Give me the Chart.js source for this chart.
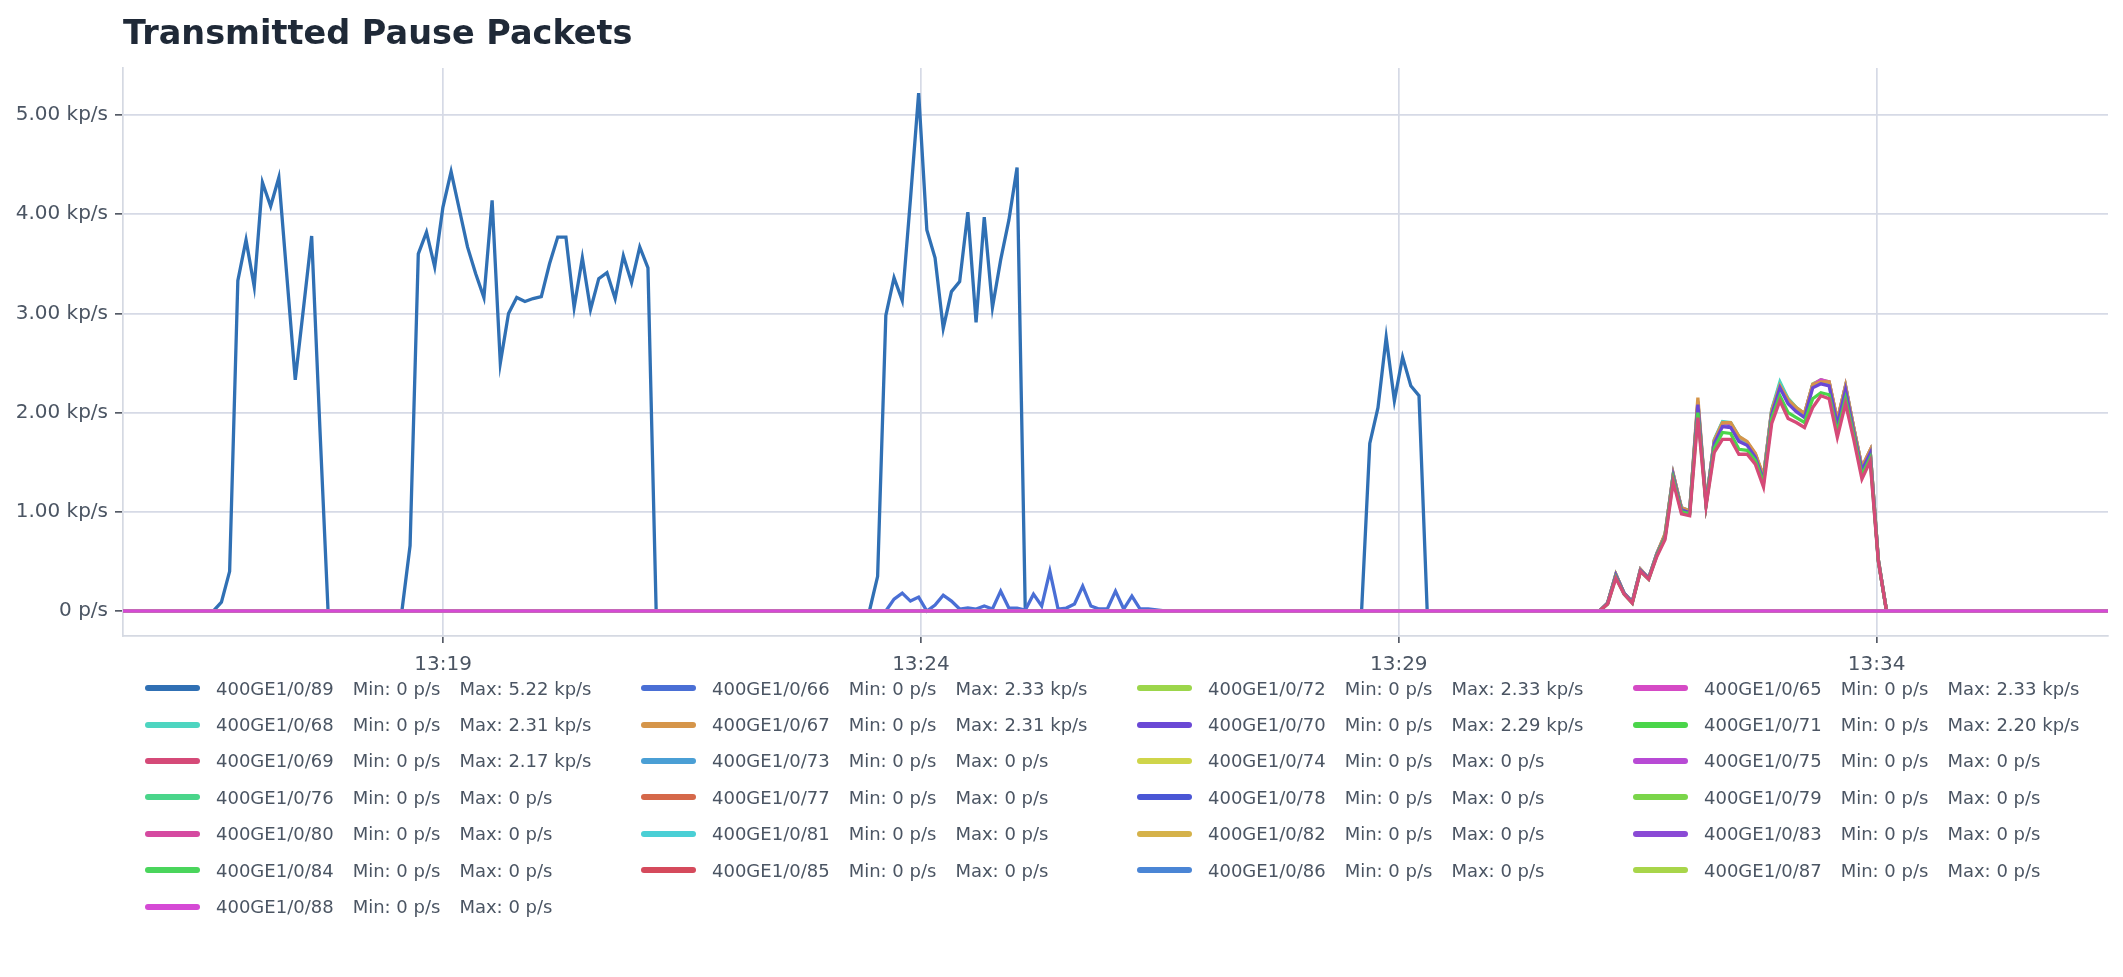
<!DOCTYPE html>
<html lang="en">
<head>
<meta charset="UTF-8" />
<title>Transmitted Pause Packets</title>
<script src="https://cdn.jsdelivr.net/npm/chart.js@4.4.1/dist/chart.umd.min.js"></script>
<style>
  html, body { margin: 0; padding: 0; background: #ffffff; }
  body { width: 2123px; height: 977px; overflow: hidden; font-family: "DejaVu Sans", sans-serif; }
  #wrap { position: relative; width: 2123px; height: 680px; }
  #legend {
    position: absolute; left: 145px; top: 670px;
    display: grid; grid-template-columns: repeat(4, 496px); grid-auto-rows: 36.4px;
    color: #4b5563; font-size: 18px;
  }
  .item { display: flex; align-items: center; white-space: nowrap; }
  .sw { width: 55px; height: 6px; border-radius: 3px; margin-right: 16px; }
  .gap { margin-left: 19px; }
</style>
</head>
<body>
<div id="wrap"><canvas id="chart"></canvas></div>
<div id="legend"></div>

<script>
// time axis, seconds since midnight
const START = 47739;          // 13:15:39
const STEP = 5.15;            // sample spacing (s)
const LAST = 242;             // last sample index
const tickTimes = [47940, 48240, 48540, 48840];
const tickLabels = ["13:19", "13:24", "13:29", "13:34"];
const yTicks = [0, 1, 2, 3, 4, 5];

// legend order (sorted by max)
const ports = [
  "400GE1/0/89", "400GE1/0/66", "400GE1/0/72", "400GE1/0/65",
  "400GE1/0/68", "400GE1/0/67", "400GE1/0/70", "400GE1/0/71",
  "400GE1/0/69", "400GE1/0/73", "400GE1/0/74", "400GE1/0/75",
  "400GE1/0/76", "400GE1/0/77", "400GE1/0/78", "400GE1/0/79",
  "400GE1/0/80", "400GE1/0/81", "400GE1/0/82", "400GE1/0/83",
  "400GE1/0/84", "400GE1/0/85", "400GE1/0/86", "400GE1/0/87",
  "400GE1/0/88"
];
const colors = [
  "#3070b4", "#4a6fd5", "#9cd64b", "#d54ac5",
  "#4dd5c0", "#d5954a", "#6a48d5", "#4ad54a",
  "#d54a78", "#4a9fd5", "#cfd54a", "#b84ad5",
  "#4ad58a", "#d5684a", "#4a56d5", "#7ad54a",
  "#d54aa0", "#4acfd5", "#d5b24a", "#8a4ad5",
  "#4ad55c", "#d54a5c", "#4a85d5", "#a8d54a",
  "#d54ad5"
];

// values in kp/s, each burst = [first sample index, values]
const p89 = [
  [11, [0, 0.09, 0.40, 3.33, 3.74, 3.27, 4.32, 4.08, 4.37, 3.35, 2.33, 3.05, 3.78, 1.85, 0]],
  [34, [0, 0.66, 3.60, 3.82, 3.47, 4.07, 4.43, 4.05, 3.67, 3.40, 3.16, 4.14, 2.50, 3.00, 3.16, 3.12,
        3.15, 3.17, 3.50, 3.77, 3.77, 3.06, 3.56, 3.04, 3.35, 3.41, 3.15, 3.58, 3.31, 3.67, 3.46, 0]],
  [91, [0, 0.35, 2.98, 3.36, 3.13, 4.15, 5.22, 3.84, 3.56, 2.85, 3.22, 3.32, 4.02, 2.91, 3.97, 3.06,
        3.54, 3.94, 4.47, 0]],
  [151, [0, 1.69, 2.05, 2.76, 2.12, 2.56, 2.27, 2.17, 0]]
];
const p66 = [
  [93, [0, 0.12, 0.18, 0.10, 0.14, 0.00, 0.06, 0.16, 0.10, 0.02, 0.03, 0.02, 0.05, 0.02, 0.20, 0.03,
        0.03, 0.01, 0.17, 0.05, 0.40, 0.02, 0.03, 0.07, 0.25, 0.05, 0.02, 0.02, 0.20, 0.02, 0.15, 0.02,
        0.02, 0.01, 0]],
  [180, [0, 0.08, 0.36, 0.18, 0.09, 0.42, 0.33, 0.58, 0.76, 1.38, 1.03, 1.01, 2.11, 1.09, 1.71, 1.89,
         1.88, 1.74, 1.70, 1.57, 1.34, 2.01, 2.27, 2.13, 2.04, 1.98, 2.28, 2.33, 2.30, 1.91, 2.26, 1.84,
         1.44, 1.61, 0.51, 0]]
];
const p72 = [
  [180, [0, 0.08, 0.37, 0.18, 0.09, 0.41, 0.33, 0.57, 0.77, 1.37, 1.04, 1.00, 2.06, 1.08, 1.72, 1.90,
         1.89, 1.75, 1.69, 1.58, 1.35, 2.02, 2.29, 2.14, 2.05, 1.99, 2.29, 2.33, 2.31, 1.92, 2.27, 1.85,
         1.45, 1.62, 0.52, 0]]
];
const p65 = [
  [180, [0, 0.08, 0.37, 0.18, 0.09, 0.42, 0.33, 0.58, 0.77, 1.37, 1.04, 1.01, 2.10, 1.09, 1.72, 1.90,
         1.89, 1.75, 1.70, 1.58, 1.35, 2.02, 2.28, 2.13, 2.04, 1.99, 2.28, 2.33, 2.31, 1.92, 2.27, 1.85,
         1.45, 1.62, 0.52, 0]]
];
const p68 = [
  [180, [0, 0.08, 0.37, 0.18, 0.09, 0.42, 0.33, 0.58, 0.77, 1.37, 1.04, 1.01, 2.09, 1.09, 1.73, 1.91,
         1.90, 1.76, 1.70, 1.58, 1.35, 2.03, 2.31, 2.14, 2.05, 1.98, 2.27, 2.30, 2.29, 1.91, 2.26, 1.84,
         1.44, 1.61, 0.52, 0]]
];
const p67 = [
  [180, [0, 0.08, 0.37, 0.18, 0.09, 0.42, 0.33, 0.58, 0.78, 1.38, 1.04, 1.01, 2.15, 1.09, 1.72, 1.90,
         1.90, 1.76, 1.71, 1.59, 1.36, 2.02, 2.27, 2.13, 2.05, 1.99, 2.28, 2.31, 2.31, 1.93, 2.27, 1.85,
         1.45, 1.62, 0.52, 0]]
];
const p70 = [
  [180, [0, 0.08, 0.36, 0.18, 0.09, 0.41, 0.33, 0.57, 0.75, 1.36, 1.02, 0.99, 2.08, 1.08, 1.69, 1.86,
         1.85, 1.71, 1.67, 1.55, 1.32, 1.98, 2.25, 2.09, 2.01, 1.95, 2.25, 2.29, 2.27, 1.88, 2.23, 1.81,
         1.42, 1.59, 0.51, 0]]
];
const p71 = [
  [180, [0, 0.07, 0.34, 0.17, 0.08, 0.40, 0.32, 0.56, 0.74, 1.33, 1.00, 0.98, 2.00, 1.07, 1.64, 1.80,
         1.79, 1.63, 1.62, 1.52, 1.29, 1.94, 2.17, 2.00, 1.95, 1.90, 2.14, 2.20, 2.18, 1.80, 2.14, 1.77,
         1.37, 1.54, 0.50, 0]]
];
const p69 = [
  [180, [0, 0.07, 0.33, 0.17, 0.08, 0.40, 0.32, 0.55, 0.72, 1.30, 0.98, 0.96, 1.95, 1.06, 1.60, 1.73,
         1.73, 1.58, 1.58, 1.48, 1.25, 1.89, 2.12, 1.94, 1.90, 1.85, 2.05, 2.17, 2.14, 1.75, 2.09, 1.73,
         1.33, 1.51, 0.50, 0]]
];
const bursts = {
  "400GE1/0/89": p89, "400GE1/0/66": p66, "400GE1/0/72": p72, "400GE1/0/65": p65,
  "400GE1/0/68": p68, "400GE1/0/67": p67, "400GE1/0/70": p70, "400GE1/0/71": p71,
  "400GE1/0/69": p69
};

function buildPoints(segs) {
  const pts = [{ x: START, y: 0 }];
  (segs || []).forEach(([i0, vals]) => {
    vals.forEach((v, k) => pts.push({ x: START + (i0 + k) * STEP, y: v }));
  });
  pts.push({ x: START + LAST * STEP, y: 0 });
  return pts;
}

function fmt(v) {
  return v === 0 ? "0 p/s" : v.toFixed(2) + " kp/s";
}

const datasets = ports.map((name, i) => ({
  label: name,
  data: buildPoints(bursts[name]),
  borderColor: colors[i],
  backgroundColor: colors[i],
  borderWidth: 3.3,
  pointRadius: 0,
  tension: 0,
  order: -i   // later legend entries drawn on top
}));

Chart.defaults.font.family = '"DejaVu Sans", sans-serif';

const chart = new Chart(document.getElementById("chart"), {
  type: "line",
  data: { datasets },
  options: {
    responsive: true,
    maintainAspectRatio: false,
    animation: false,
    layout: { padding: { left: 0, right: 15, top: 0, bottom: 0 } },
    plugins: {
      legend: { display: false },
      tooltip: { enabled: false },
      title: {
        display: true,
        text: "Transmitted Pause Packets",
        align: "start",
        fullSize: false,
        color: "#1f2937",
        font: { size: 33.5, weight: "bold" },
        padding: { top: 15, bottom: 12.8 }
      }
    },
    scales: {
      x: {
        type: "linear",
        min: START,
        max: START + LAST * STEP,
        afterBuildTicks: s => { s.ticks = tickTimes.map(v => ({ value: v })); },
        afterFit: s => { s.height = 44; },
        ticks: {
          color: "#4b5563",
          font: { size: 20 },
          padding: 9.5,
          maxRotation: 0,
          callback: v => tickLabels[tickTimes.indexOf(v)]
        },
        grid: { color: "#d6dae6", lineWidth: 1.7, tickColor: "#555b66", tickLength: 7 },
        border: { color: "#d5d9e2", width: 1.7 }
      },
      y: {
        min: -0.252,
        max: 5.474,
        afterBuildTicks: s => { s.ticks = yTicks.map(v => ({ value: v })); },
        afterFit: s => { s.width = 123; },
        ticks: {
          color: "#4b5563",
          font: { size: 20 },
          padding: 7,
          callback: v => fmt(v)
        },
        grid: { color: "#d6dae6", lineWidth: 1.7, tickColor: "#555b66", tickLength: 8 },
        border: { color: "#d5d9e2", width: 1.7 }
      }
    }
  }
});

// html legend with min / max per port
const legendEl = document.getElementById("legend");
chart.data.datasets.forEach(ds => {
  const ys = ds.data.map(p => p.y);
  const item = document.createElement("div");
  item.className = "item";
  item.innerHTML =
    '<span class="sw" style="background:' + ds.borderColor + '"></span>' +
    "<span>" + ds.label + "</span>" +
    '<span class="gap">Min: ' + fmt(Math.min(...ys)) + "</span>" +
    '<span class="gap">Max: ' + fmt(Math.max(...ys)) + "</span>";
  legendEl.appendChild(item);
});
</script>
</body>
</html>
